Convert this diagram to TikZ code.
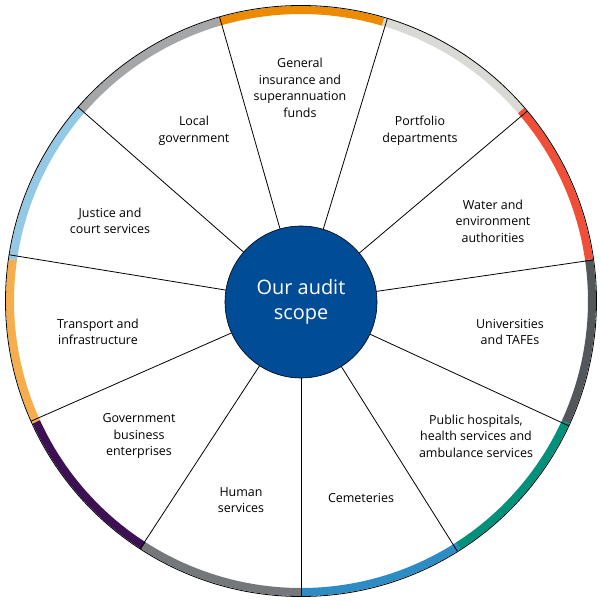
\documentclass[tikz,border=0pt]{standalone}
\usepackage{fontspec}
\setmainfont{Open Sans}
\usepackage{xcolor}
\usepackage{tikz}
\usetikzlibrary{positioning}
\definecolor{scopeblue}{RGB}{0,76,151}
\definecolor{genorange}{RGB}{237,139,0}
\definecolor{portgrey}{RGB}{217,217,214}
\definecolor{waterred}{RGB}{240,78,55}
\definecolor{unigrey}{RGB}{83,86,90}
\definecolor{hospteal}{RGB}{0,145,125}
\definecolor{cemblue}{RGB}{45,140,195}
\definecolor{humangrey}{RGB}{117,120,123}
\definecolor{gbepurple}{RGB}{60,16,83}
\definecolor{transorange}{RGB}{246,174,76}
\definecolor{justiceblue}{RGB}{148,201,230}
\definecolor{localgrey}{RGB}{165,166,168}

\begin{document}
\begin{tikzpicture}[
  x=1bp, y=1bp,
  font=\fontsize{12.5}{16.6}\selectfont,
  hub/.style={circle, draw=black, line width=0.6bp,
    fill=scopeblue, text=white, align=center,
    minimum size=152bp, inner sep=0pt, outer sep=0pt,
    font=\fontsize{20}{25}\selectfont},
  rim/.style={circle, draw=black, line width=0.8bp,
    minimum size=591bp, inner sep=0pt, outer sep=0pt},
  band/.style={line width=8bp},
  spoke/.style={draw=black, line width=0.8bp},
  sector/.style={align=center, inner sep=0pt}
]
\useasboundingbox (-301,-300) rectangle (300,301);

% coloured bands round the rim
\draw[band, cemblue]     (270:291)    arc[start angle=270,    end angle=302.73, radius=291];
\draw[band, hospteal]    (302.73:291) arc[start angle=302.73, end angle=335.45, radius=291];
\draw[band, unigrey]     (335.45:291) arc[start angle=335.45, end angle=368.18, radius=291];
\draw[band, waterred]    (8.18:291)   arc[start angle=8.18,   end angle=40.91,  radius=291];
\draw[band, portgrey]    (40.91:291)  arc[start angle=40.91,  end angle=73.64,  radius=291];
\draw[band, genorange]   (73.64:291)  arc[start angle=73.64,  end angle=106.36, radius=291];
\draw[band, localgrey]   (106.36:291) arc[start angle=106.36, end angle=139.09, radius=291];
\draw[band, justiceblue] (139.09:291) arc[start angle=139.09, end angle=171.82, radius=291];
\draw[band, transorange] (171.82:291) arc[start angle=171.82, end angle=204.55, radius=291];
\draw[band, gbepurple]   (204.55:291) arc[start angle=204.55, end angle=237.27, radius=291];
\draw[band, humangrey]   (237.27:291) arc[start angle=237.27, end angle=270,    radius=291];

\node[rim] (rim) at (0,0) {};
\node[hub] (scope) at (0,-1) {Our audit\\scope};

% spokes between the hub and the rim
\foreach \a in {270,302.73,335.45,8.18,40.91,73.64,106.36,139.09,171.82,204.55,237.27}
  \draw[spoke] (scope.\a) -- (rim.\a);

\node[sector] (gen) at (-1,213) {General\\insurance and\\superannuation\\funds};
\node[sector] (port) at (119,170) {Portfolio\\departments};
\node[sector] (water) at (192,80) {Water and\\environment\\authorities};
\node[sector] (uni) at (209,-31) {Universities\\and TAFEs};
\node[sector] (hosp) at (175,-135) {Public hospitals,\\health services and\\ambulance services};
\node[sector] (cem) at (60,-197) {Cemeteries};
\node[sector] (human) at (-60,-199) {Human\\services};
\node[sector] (gbe) at (-162,-135) {Government\\business\\enterprises};
\node[sector] (trans) at (-203,-31) {Transport and\\infrastructure};
\node[sector] (justice) at (-191,80) {Justice and\\court services};
\node[sector] (local) at (-107,170) {Local\\government};
\end{tikzpicture}
\end{document}
